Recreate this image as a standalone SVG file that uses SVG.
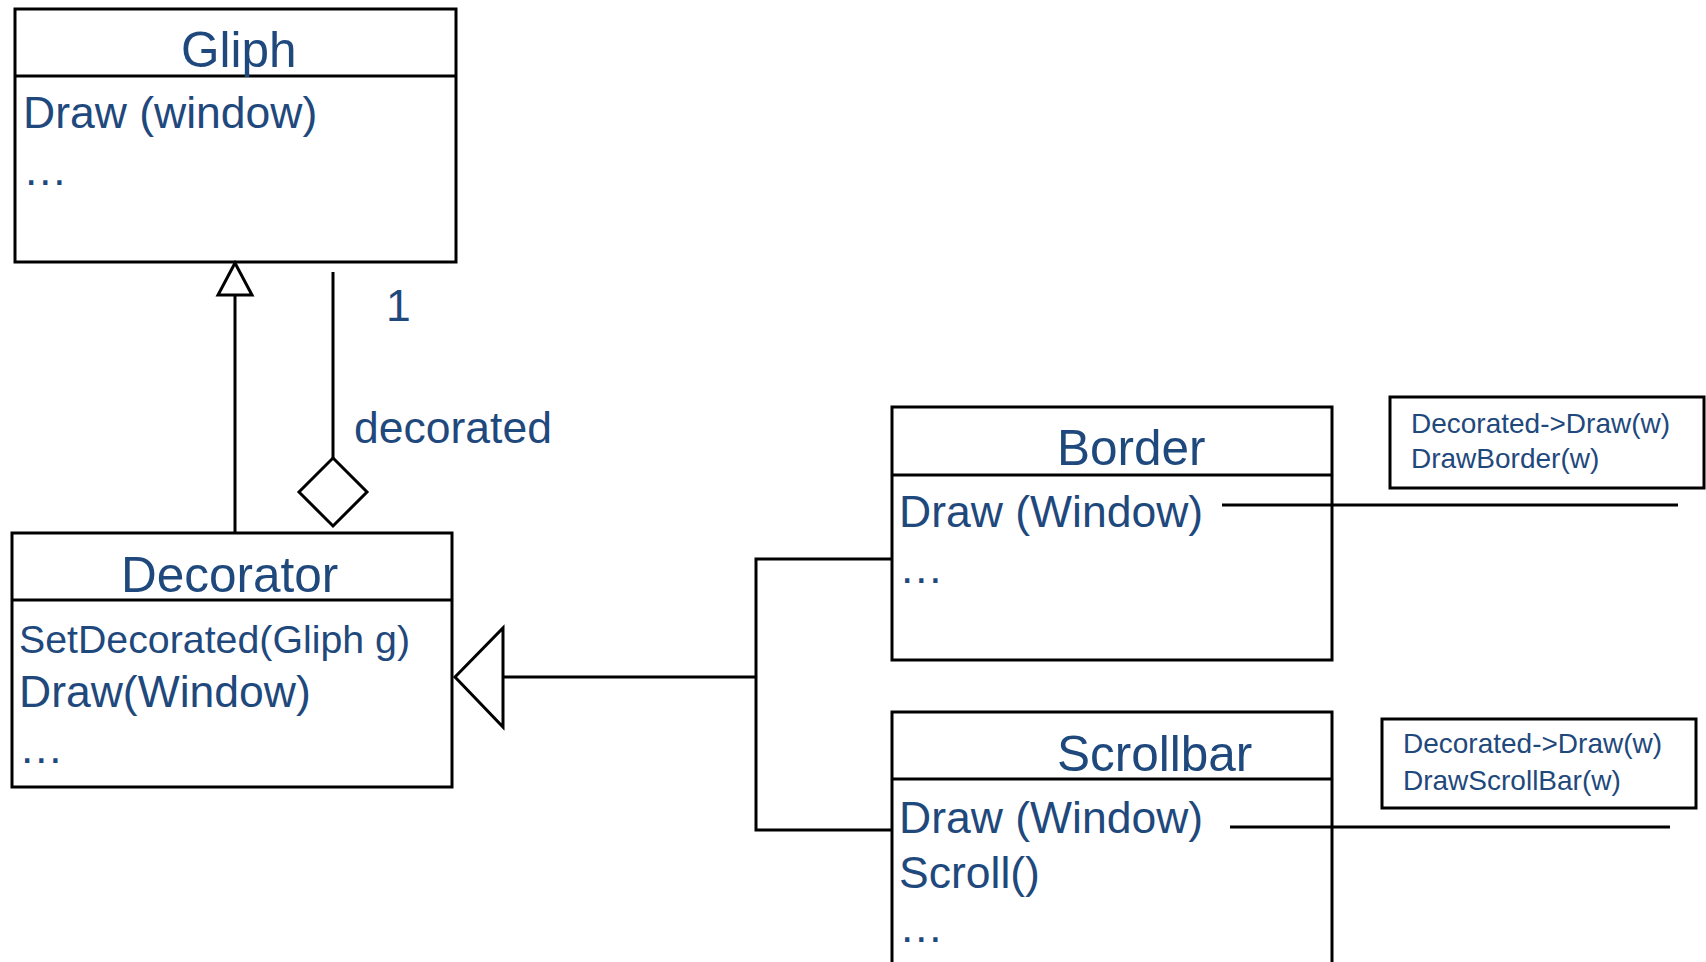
<svg xmlns="http://www.w3.org/2000/svg" width="1706" height="962" viewBox="0 0 1706 962">
<style>
.box{fill:#fff;stroke:#000;stroke-width:3}
.ln{fill:none;stroke:#000;stroke-width:3}
.t{font-family:"Liberation Sans",Arial,sans-serif;fill:#1F497D}
.title{font-size:49.5px}
.m{font-size:44.5px}
.s{font-size:39.3px}
.n{font-size:28px}
</style>
<rect width="1706" height="962" fill="#fff"/>
<g id="gliph">
  <rect class="box" x="15" y="9" width="441" height="253"/>
  <line class="ln" x1="15" y1="76" x2="456" y2="76"/>
  <text class="t title" x="181" y="67">Gliph</text>
  <text class="t m" x="23" y="128">Draw (window)</text>
  <text class="t m" x="23" y="185">…</text>
</g>
<g id="decorator">
  <rect class="box" x="12" y="533" width="440" height="254"/>
  <line class="ln" x1="12" y1="600" x2="452" y2="600"/>
  <text class="t title" x="121" y="592">Decorator</text>
  <text class="t s" x="19" y="653">SetDecorated(Gliph g)</text>
  <text class="t m" x="19" y="707">Draw(Window)</text>
  <text class="t m" x="19" y="763">…</text>
</g>
<g id="border">
  <rect class="box" x="892" y="407" width="440" height="253"/>
  <line class="ln" x1="892" y1="475" x2="1332" y2="475"/>
  <text class="t title" x="1057" y="465">Border</text>
  <text class="t m" x="899" y="527">Draw (Window)</text>
  <text class="t m" x="899" y="583">…</text>
</g>
<g id="scrollbar">
  <rect class="box" x="892" y="712" width="440" height="300"/>
  <line class="ln" x1="892" y1="779" x2="1332" y2="779"/>
  <text class="t title" x="1057" y="771">Scrollbar</text>
  <text class="t m" x="899" y="833">Draw (Window)</text>
  <text class="t m" x="899" y="888">Scroll()</text>
  <text class="t m" x="899" y="942">…</text>
</g>
<g id="note-border">
  <rect class="box" x="1390" y="397" width="314" height="91"/>
  <text class="t n" x="1411" y="433">Decorated-&gt;Draw(w)</text>
  <text class="t n" x="1411" y="468">DrawBorder(w)</text>
</g>
<g id="note-scrollbar">
  <rect class="box" x="1382" y="719" width="314" height="89"/>
  <text class="t n" x="1403" y="753">Decorated-&gt;Draw(w)</text>
  <text class="t n" x="1403" y="790">DrawScrollBar(w)</text>
</g>
<g id="connectors">
  <line class="ln" x1="235" y1="295" x2="235" y2="533"/>
  <polygon class="ln" points="235,263 218,295 252,295"/>
  <line class="ln" x1="333" y1="272" x2="333" y2="458"/>
  <polygon class="ln" points="333,458 367,492 333,526 299,492"/>
  <text class="t m" x="386" y="321">1</text>
  <text class="t m" x="354" y="443">decorated</text>
  <polygon class="ln" points="455,677 503,628 503,727"/>
  <polyline class="ln" points="503,677 756,677"/>
  <polyline class="ln" points="892,559 756,559 756,830 892,830"/>
  <line class="ln" x1="1222" y1="505" x2="1678" y2="505"/>
  <line class="ln" x1="1230" y1="827" x2="1670" y2="827"/>
</g>
</svg>
